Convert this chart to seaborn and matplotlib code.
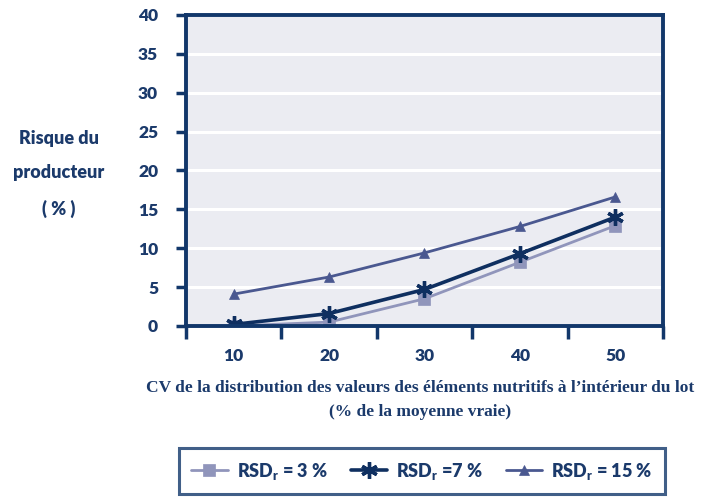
import matplotlib
matplotlib.use("Agg")
import matplotlib.pyplot as plt
import seaborn as sns
import pandas as pd
from matplotlib.ticker import MultipleLocator, FixedLocator

# CV of nutrient distribution within the lot (% of true mean)
cv = [10, 20, 30, 40, 50]
# Producer risk (%) for each repeatability RSD
risk_rsd3 = [0.0, 0.5, 3.5, 8.2, 12.9]
risk_rsd7 = [0.2, 1.6, 4.7, 9.3, 14.0]
risk_rsd15 = [4.1, 6.3, 9.4, 12.8, 16.6]
series_labels = ["RSD$_\\mathregular{r}$ = 3 %", "RSD$_\\mathregular{r}$ =7 %", "RSD$_\\mathregular{r}$ = 15 %"]
y_ticks = [0, 5, 10, 15, 20, 25, 30, 35, 40]

navy = "#12376a"
text_col = "#1b3a6b"
colors = ["#9095bb", "#0f2f60", "#4a5890"]
marker_list = ["s", (6, 2, 0), "^"]
marker_sizes = [8, 12, 7.5]
line_widths = [2.0, 2.6, 2.0]
edge_widths = [0.5, 2.4, 0.5]

sans = ["Lato", "DejaVu Sans"]
sns.set_theme(style="darkgrid")
plt.rcParams["font.family"] = sans
plt.rcParams["mathtext.fontset"] = "custom"
plt.rcParams["mathtext.rm"] = "Lato:bold"

fig = plt.figure(figsize=(7.09, 4.98), dpi=100)
ax = fig.add_axes([0.2623, 0.3454, 0.6728, 0.6245])
ax.set_facecolor("#ebecf2")

handles = []
for vals, lab, col, mk, ms, lw, mew in zip([risk_rsd3, risk_rsd7, risk_rsd15], series_labels,
                                           colors, marker_list, marker_sizes, line_widths, edge_widths):
    d = pd.DataFrame({"cv": cv, "risk": vals})
    sns.lineplot(data=d, x="cv", y="risk", color=col, marker=mk, markersize=ms,
                 markeredgewidth=mew, markeredgecolor=col, markerfacecolor=col,
                 linewidth=lw, ax=ax, legend=False)
    handles.append(plt.Line2D([], [], color=col, lw=lw, marker=mk, markersize=ms,
                              markeredgewidth=mew, markerfacecolor=col, markeredgecolor=col))

ax.set_xlim(5, 55)
ax.set_ylim(0, 40)
ax.set_yticks(y_ticks)
ax.xaxis.set_major_locator(FixedLocator(cv))
ax.xaxis.set_minor_locator(MultipleLocator(10, offset=5))
ax.grid(axis="y", color="white", linewidth=2.2)
ax.grid(axis="x", visible=False)

for sp in ax.spines.values():
    sp.set_visible(True)
    sp.set_color(navy)
    sp.set_linewidth(2.8)

ax.tick_params(axis="y", which="major", direction="out", length=7, width=2.5,
               color=navy, left=True, labelsize=12.5, labelcolor=text_col, pad=13)
ax.tick_params(axis="x", which="major", length=0, labelsize=12.5,
               labelcolor=text_col, pad=16)
ax.tick_params(axis="x", which="minor", direction="out", length=9, width=2.5,
               color=navy, bottom=True)
for lab in ax.get_xticklabels() + ax.get_yticklabels():
    lab.set_fontweight("heavy")

ax.set_xlabel("")
ax.set_ylabel("")

fig.text(59 / 709, 1 - 174 / 498, "Risque du\nproducteur\n( % )", ha="center", va="center",
         fontsize=13, fontweight="heavy", color=text_col, linespacing=2.2)

fig.text(420 / 709, 1 - 400 / 498,
         "CV de la distribution des valeurs des éléments nutritifs à l’intérieur du lot\n(% de la moyenne vraie)",
         ha="center", va="center", fontsize=12.5, fontweight="bold", color=text_col,
         family=["Liberation Serif"], linespacing=1.6)

leg = fig.legend(handles, series_labels, loc="center", ncol=3,
                 bbox_to_anchor=(422 / 709, 1 - 471 / 498), frameon=True, fancybox=False,
                 handlelength=2.0, handletextpad=0.5, columnspacing=1.3, borderpad=0.7,
                 borderaxespad=0,
                 prop={"family": "Lato", "weight": "heavy", "size": 13})
leg.get_frame().set_edgecolor(navy)
leg.get_frame().set_linewidth(2.2)
leg.get_frame().set_facecolor("white")
for t in leg.get_texts():
    t.set_color(text_col)

fig.savefig("out.png", dpi=100, facecolor="white")
